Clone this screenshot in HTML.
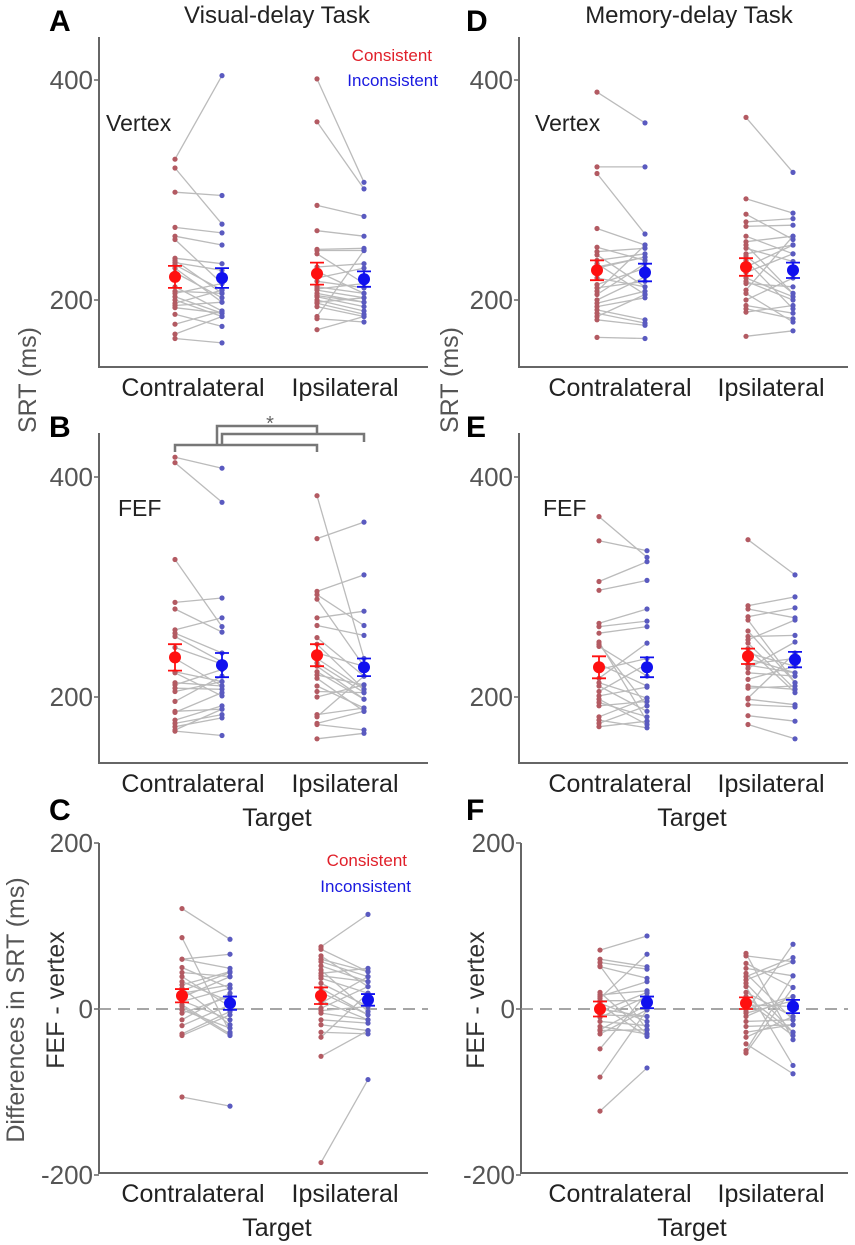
<!DOCTYPE html>
<html><head><meta charset="utf-8">
<style>
html,body{margin:0;padding:0;background:#fff;}
svg{display:block;font-family:"Liberation Sans",sans-serif;}
</style></head>
<body>
<svg id="fig" width="855" height="1245" viewBox="0 0 855 1245" xmlns="http://www.w3.org/2000/svg">
<g>
<text x="49" y="31" font-size="30" font-weight="bold">A</text>
<text x="277" y="23" font-size="24" text-anchor="middle" fill="#222">Visual-delay Task</text>
<text x="466" y="31" font-size="30" font-weight="bold">D</text>
<text x="689" y="23" font-size="24" text-anchor="middle" fill="#222">Memory-delay Task</text>
<text x="49" y="437" font-size="30" font-weight="bold">B</text>
<text x="466" y="437" font-size="30" font-weight="bold">E</text>
<text x="49" y="820" font-size="30" font-weight="bold">C</text>
<text x="466" y="820" font-size="30" font-weight="bold">F</text>
<text transform="translate(36,380) rotate(-90)" font-size="25" text-anchor="middle" fill="#555">SRT (ms)</text>
<text transform="translate(458,380) rotate(-90)" font-size="25" text-anchor="middle" fill="#555">SRT (ms)</text>
<text transform="translate(24,1010) rotate(-90)" font-size="25" text-anchor="middle" fill="#555">Differences in SRT (ms)</text>
<text transform="translate(64,1000) rotate(-90)" font-size="25" text-anchor="middle" fill="#333">FEF - vertex</text>
<text transform="translate(484,1000) rotate(-90)" font-size="25" text-anchor="middle" fill="#333">FEF - vertex</text>
<text x="432" y="61" font-size="17" text-anchor="end" fill="#e0202a">Consistent</text>
<text x="438" y="86" font-size="17" text-anchor="end" fill="#1a1ae0">Inconsistent</text>
<text x="407" y="866" font-size="17" text-anchor="end" fill="#e0202a">Consistent</text>
<text x="411" y="892" font-size="17" text-anchor="end" fill="#1a1ae0">Inconsistent</text>
<text x="106" y="131" font-size="23" fill="#222">Vertex</text>
<text x="535" y="131" font-size="23" fill="#222">Vertex</text>
<text x="118" y="516" font-size="23" fill="#222">FEF</text>
<text x="543" y="516" font-size="23" fill="#222">FEF</text>
<text x="277" y="826" font-size="25" text-anchor="middle" fill="#222">Target</text>
<text x="692" y="826" font-size="25" text-anchor="middle" fill="#222">Target</text>
<text x="277" y="1236" font-size="25" text-anchor="middle" fill="#222">Target</text>
<text x="692" y="1236" font-size="25" text-anchor="middle" fill="#222">Target</text>
<g stroke="#777" stroke-width="2.5" fill="none">
<path d="M175,452 V445 H317 V452"/>
<path d="M217,445 V426 H317 V433"/>
<path d="M222,445 V434 H364 V442"/>
</g>
<text x="270" y="430" font-size="20" text-anchor="middle" fill="#666">*</text>
</g>
<g id="plots"></g>
</svg>
<script>
// ---------- DATA ----------
const conditions = ["Contralateral", "Ipsilateral"];
// Panel A: visual-delay, vertex (ms)
const aContraCons = [328,320,298,266,258,255,238,236,234,232,229,225,212,208,206,203,200,197,195,193,187,178,169,165];
const aContraIncons = [404,269,295,261,250,215,233,206,227,209,198,202,190,206,215,188,185,209,198,188,176,190,185,161];
const aIpsiCons = [401,362,286,263,246,245,242,220,217,212,209,206,203,200,197,194,185,183,173,230,226,210,204,198];
const aIpsiIncons = [307,301,276,258,247,245,215,229,211,206,202,198,194,190,187,185,245,180,185,233,206,215,198,202];
const aMeans = [221,220,224,219];
const aSem = [10,9,10,7];
// Panel D: memory-delay, vertex
const dContraCons = [389,321,315,265,248,244,241,236,233,229,214,211,208,205,200,197,194,191,188,185,182,166,220,230];
const dContraIncons = [361,321,260,250,236,247,212,242,205,239,229,217,250,233,221,208,202,182,179,205,177,165,212,239];
const dIpsiCons = [366,292,278,271,267,258,253,250,247,242,236,220,217,209,206,200,195,192,189,167,230,240,225,215];
const dIpsiIncons = [316,279,255,274,268,242,258,206,235,250,192,203,200,258,180,220,188,183,195,172,250,206,242,212];
const dMeans = [227,225,230,227];
const dSem = [9,8,8,7];
// Panel B: visual-delay, FEF
const bContraCons = [418,413,325,286,280,261,258,255,223,222,213,211,208,196,187,186,179,176,173,170,169,235,245,205];
const bContraIncons = [408,377,264,290,259,272,240,232,214,201,210,225,207,219,189,204,192,184,181,189,165,210,230,214];
const bIpsiCons = [383,344,296,293,289,272,265,254,248,231,223,220,217,210,200,184,182,176,175,162,240,235,228,205];
const bIpsiIncons = [235,359,311,265,228,278,256,219,207,204,198,211,187,190,211,190,219,187,170,167,228,207,198,204];
const bMeans = [236,229,238,227];
const bSem = [12,11,10,8];
// Panel E: memory-delay, FEF
const eContraCons = [364,342,305,297,267,264,258,250,248,246,217,213,210,201,198,195,192,182,179,176,173,225,230,205];
const eContraIncons = [327,333,323,306,280,269,264,178,192,219,249,199,187,209,175,182,196,199,172,192,178,235,210,230];
const eIpsiCons = [343,283,280,273,270,255,252,249,244,229,222,216,208,199,198,193,183,175,240,235,226,260,210,230];
const eIpsiIncons = [311,291,272,281,213,256,270,207,204,222,219,228,210,240,193,191,178,162,228,222,250,213,207,235];
const eMeans = [227,227,237,234];
const eSem = [10,9,7,7];
// Panel C: visual-delay, FEF - vertex
const cContraCons = [121,86,60,60,44,39,29,25,19,9,3,-1,-13,-30,-32,-106,33,14,5,-5,50,22,10,-20];
const cContraIncons = [84,-28,66,49,39,3,45,-19,29,25,-32,-23,19,-3,-7,-117,9,39,-30,15,25,44,-13,5];
const cIpsiCons = [75,72,64,57,52,47,43,37,31,25,7,1,-5,-13,-19,-28,-34,-57,-185,60,40,20,-2,10];
const cIpsiIncons = [114,45,27,39,33,-3,49,19,3,-7,39,27,-13,-17,-26,-30,19,-26,-85,45,33,-7,3,-13];
const cMeans = [16,7,16,11];
const cSem = [8,8,10,7];
// Panel F: memory-delay, FEF - vertex
const fContraCons = [71,60,56,51,17,13,7,-7,-21,-26,-48,-82,-123,15,5,-3,-15,-25,10,52,0,-10,20,-30];
const fContraIncons = [88,51,48,37,22,66,-15,-9,-30,-25,19,-1,-71,33,-33,20,-20,5,10,-25,-9,15,-30,-1];
const fIpsiCons = [67,64,55,49,43,39,31,27,-3,-9,-21,-34,-42,-50,-53,10,20,0,-15,5,35,-28,15,-5];
const fIpsiIncons = [-37,57,26,40,-13,62,-28,-68,78,15,-19,-9,-78,40,26,-32,-9,15,-13,3,57,-19,-28,10];
const fMeans = [0,8,7,3];
const fSem = [9,7,7,8];
const srtTicks = [200, 400];
const diffTicks = [-200, 0, 200];

// ---------- DRAWING ----------
const NS = "http://www.w3.org/2000/svg";
const root = document.getElementById("plots");
function mk(tag, attrs, parent) {
  const e = document.createElementNS(NS, tag);
  for (const k in attrs) e.setAttribute(k, attrs[k]);
  parent.appendChild(e);
  return e;
}
function drawPanel(p) {
  const g = mk("g", {}, root);
  
  
  const y = v => p.y0 + (v - p.v0) * (p.y1 - p.y0) / (p.v1 - p.v0);
  const ax = mk("path", {d: `M${p.ax},${p.top} V${p.bottom} H${p.right}`, stroke: "#666", "stroke-width": 2, fill: "none"}, g);
  
  
  p.ticks.forEach(t => {
    const ty = y(t);
    const tk = mk("line", {x1: p.ax - 5, x2: p.ax, y1: ty, y2: ty, stroke: "#666", "stroke-width": 1.5}, g);
    
    
    const tl = mk("text", {x: p.ax - 6, y: ty + 9, "font-size": 26, "text-anchor": "end", fill: "#555"}, g);
    tl.textContent = String(t);
    
    
  });
  if (p.zeroLine) {
    const zl = mk("line", {x1: p.ax, x2: p.right, y1: y(0), y2: y(0), stroke: "#888", "stroke-width": 1.5, "stroke-dasharray": "12 7"}, g);
    
    
  }
  conditions.forEach((c, i) => {
    const xl = mk("text", {x: p.labelX[i], y: p.bottom + 29, "font-size": 25, "text-anchor": "middle", fill: "#222"}, g);
    xl.textContent = c;
    
    
  });
  const groups = [[p.cc, p.ci], [p.ic, p.ii]];
  groups.forEach((pair, gi) => {
    const xr = p.xs[gi * 2], xb = p.xs[gi * 2 + 1];
    pair[0].forEach((v, k) => {
      const ln = mk("line", {x1: xr, y1: y(v), x2: xb, y2: y(pair[1][k]), stroke: "#bbb", "stroke-width": 1.3}, g);
      
      
    });
    pair[0].forEach(v => {
      const d = mk("circle", {cx: xr, cy: y(v), r: 2.6, fill: "#b35a62"}, g);
      
      
    });
    pair[1].forEach(v => {
      const d = mk("circle", {cx: xb, cy: y(v), r: 2.6, fill: "#5a5ac0"}, g);
      
      
    });
  });
  p.means.forEach((m, k) => {
    const x = p.xs[k], col = k % 2 === 0 ? "#ff1010" : "#1010ee";
    const hi = y(m + p.sem[k]), lo = y(m - p.sem[k]);
    const eb = mk("path", {d: `M${x-7},${hi} H${x+7} M${x},${hi} V${lo} M${x-7},${lo} H${x+7}`, stroke: col, "stroke-width": 1.8, fill: "none"}, g);
    
    
    const md = mk("circle", {cx: x, cy: y(m), r: 6, fill: col}, g);
    
    
  });
}
const L = {ax: 99, right: 428, labelX: [193, 345]};
const R = {ax: 519, right: 848, labelX: [620, 771]};
drawPanel(Object.assign({id: "a", top: 37, bottom: 367, y0: 300, v0: 200, y1: 80, v1: 400, ticks: srtTicks, xs: [175,222,317,364], cc: aContraCons, ci: aContraIncons, ic: aIpsiCons, ii: aIpsiIncons, means: aMeans, sem: aSem}, L));
drawPanel(Object.assign({id: "d", top: 37, bottom: 367, y0: 300, v0: 200, y1: 80, v1: 400, ticks: srtTicks, xs: [597,645,746,793], cc: dContraCons, ci: dContraIncons, ic: dIpsiCons, ii: dIpsiIncons, means: dMeans, sem: dSem}, R));
drawPanel(Object.assign({id: "b", top: 433, bottom: 763, y0: 697, v0: 200, y1: 477, v1: 400, ticks: srtTicks, xs: [175,222,317,364], cc: bContraCons, ci: bContraIncons, ic: bIpsiCons, ii: bIpsiIncons, means: bMeans, sem: bSem}, L));
drawPanel(Object.assign({id: "e", top: 433, bottom: 763, y0: 697, v0: 200, y1: 477, v1: 400, ticks: srtTicks, xs: [599,647,748,795], cc: eContraCons, ci: eContraIncons, ic: eIpsiCons, ii: eIpsiIncons, means: eMeans, sem: eSem}, R));
drawPanel(Object.assign({id: "c", top: 843, bottom: 1173, y0: 1009, v0: 0, y1: 843, v1: 200, ticks: diffTicks, zeroLine: true, xs: [182,230,321,368], cc: cContraCons, ci: cContraIncons, ic: cIpsiCons, ii: cIpsiIncons, means: cMeans, sem: cSem}, L));
drawPanel(Object.assign({id: "f", top: 843, bottom: 1173, y0: 1009, v0: 0, y1: 843, v1: 200, ticks: diffTicks, zeroLine: true, xs: [600,647,746,793], cc: fContraCons, ci: fContraIncons, ic: fIpsiCons, ii: fIpsiIncons, means: fMeans, sem: fSem}, Object.assign({}, R, {ax: 521})));
</script>
</body></html>
